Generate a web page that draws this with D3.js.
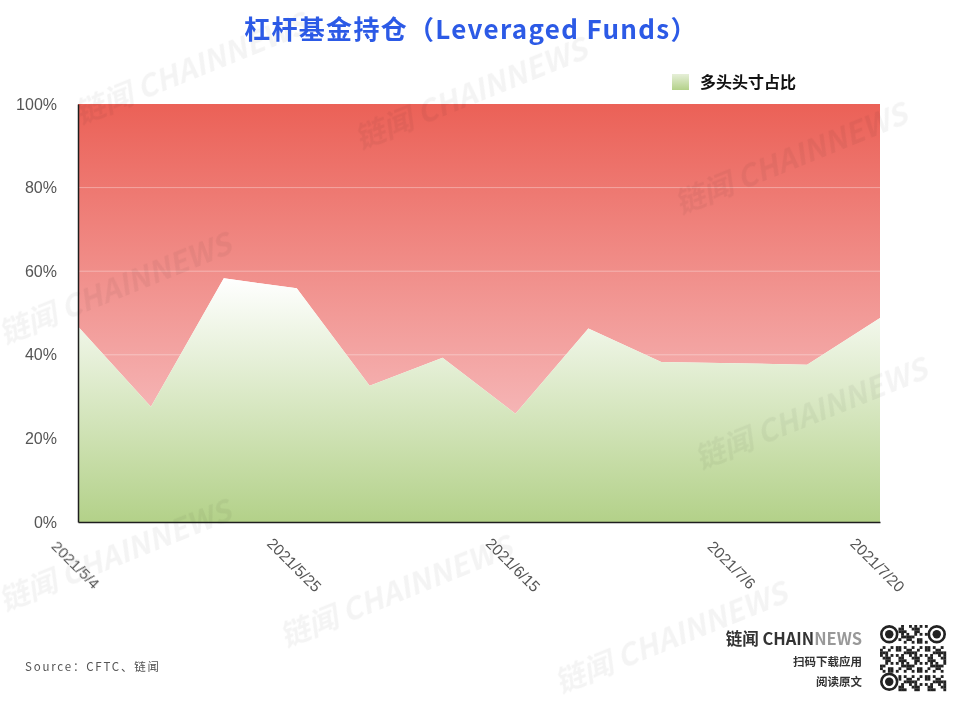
<!DOCTYPE html>
<html>
<head>
<meta charset="utf-8">
<script src="https://cdn.jsdelivr.net/npm/d3@7"></script>
<style>
  html, body { margin: 0; padding: 0; background: #fff; }
  svg { display: block; }
</style>
</head>
<body>
<svg id="chart" width="960" height="704"></svg>
<script>
// ---- data ----
const dates = ["2021/5/4","2021/5/11","2021/5/18","2021/5/25","2021/6/1","2021/6/8",
               "2021/6/15","2021/6/22","2021/6/29","2021/7/6","2021/7/13","2021/7/20"];
const longShare  = [46.8, 27.6, 58.3, 55.9, 32.6, 39.3, 25.9, 46.3, 38.3, 38.0, 37.6, 48.8];
const shortShare = [53.2, 72.4, 41.7, 44.1, 67.4, 60.7, 74.1, 53.7, 61.7, 62.0, 62.4, 51.2];
const xTickLabels = ["2021/5/4","2021/5/25","2021/6/15","2021/7/6","2021/7/20"];
const yTicks = [0, 20, 40, 60, 80, 100];
const titleText = "杠杆基金持仓（Leveraged Funds）";
const legendLabel = "多头头寸占比";
const sourceText = "Source：CFTC、链闻";

(function () {
// ---- layout ----
const svg = d3.select("#chart");
const pLeft = 78, pRight = 880, pTop = 104, pBottom = 522;
const x = d3.scalePoint().domain(dates).range([pLeft, pRight]);
const y = d3.scaleLinear().domain([0, 100]).range([pBottom, pTop]);

const defs = svg.append("defs");
const gGreen = defs.append("linearGradient").attr("id", "gGreen")
  .attr("x1", 0).attr("y1", 0).attr("x2", 0).attr("y2", 1);
gGreen.append("stop").attr("offset", "0%").attr("stop-color", "#ffffff");
gGreen.append("stop").attr("offset", "100%").attr("stop-color", "#b3d189");

const gRed = defs.append("linearGradient").attr("id", "gRed")
  .attr("gradientUnits", "userSpaceOnUse")
  .attr("x1", 0).attr("y1", pTop).attr("x2", 0).attr("y2", pBottom);
gRed.append("stop").attr("offset", "0%").attr("stop-color", "#eb6157");
gRed.append("stop").attr("offset", "100%").attr("stop-color", "#f9d2d6");

const gLeg = defs.append("linearGradient").attr("id", "gLeg")
  .attr("x1", 0).attr("y1", 0).attr("x2", 0).attr("y2", 1);
gLeg.append("stop").attr("offset", "0%").attr("stop-color", "#e6efd8");
gLeg.append("stop").attr("offset", "100%").attr("stop-color", "#b3d189");

// ---- stacked areas ----
const series = dates.map((d, i) => ({ d, long: longShare[i], short: shortShare[i] }));

svg.append("path").datum(series)
  .attr("fill", "url(#gRed)")
  .attr("d", d3.area().x(s => x(s.d)).y0(s => y(s.long)).y1(s => y(s.long + s.short)));

// gridlines
svg.append("g").selectAll("line").data(yTicks.filter(t => t > 0 && t < 100)).join("line")
  .attr("x1", pLeft).attr("x2", pRight)
  .attr("y1", t => y(t)).attr("y2", t => y(t))
  .attr("stroke", "#ffffff").attr("stroke-opacity", 0.35).attr("stroke-width", 1);

svg.append("path").datum(series)
  .attr("fill", "url(#gGreen)")
  .attr("d", d3.area().x(s => x(s.d)).y0(y(0)).y1(s => y(s.long)));

// ---- watermarks ----
const wm = svg.append("g").attr("fill", "#000").attr("opacity", 0.045)
  .style("font-family", "'Noto Sans CJK SC', sans-serif")
  .style("font-weight", "700").style("font-style", "italic").style("font-size", "30px");
const wmPos = [[80,125],[360,150],[680,215],[4,345],[4,612],[285,648],[560,694],[700,470]];
wmPos.forEach(p => {
  wm.append("text").attr("transform", `translate(${p[0]},${p[1]}) rotate(-22)`).text("链闻 CHAINNEWS");
});

// ---- axes ----
const yAxis = svg.append("g").attr("transform", `translate(${pLeft},0)`)
  .call(d3.axisLeft(y).tickValues(yTicks).tickFormat(d => d + "%").tickSize(0).tickPadding(21));
yAxis.select(".domain").attr("stroke", "#1e1e1e").attr("stroke-width", 1.5);
yAxis.selectAll("text").attr("fill", "#555").style("font-size", "16px")
  .style("font-family", "'Liberation Sans', Arial, sans-serif");

const xAxis = svg.append("g").attr("transform", `translate(0,${pBottom})`)
  .call(d3.axisBottom(x).tickValues(xTickLabels).tickSize(0).tickPadding(0));
xAxis.select(".domain").attr("stroke", "#1e1e1e").attr("stroke-width", 1.5);
xAxis.selectAll("text").attr("fill", "#555").style("font-size", "15.5px")
  .style("font-family", "'Liberation Sans', Arial, sans-serif")
  .attr("text-anchor", "middle").attr("y", 0).attr("dy", "0.35em")
  .attr("transform", "translate(-3,43) rotate(45)");

// ---- title ----
svg.append("text").attr("x", 471).attr("y", 39).attr("text-anchor", "middle")
  .attr("fill", "#2c5ae6")
  .style("font-family", "'Noto Sans CJK SC', sans-serif").style("font-weight", "700")
  .style("font-size", "26px").style("letter-spacing", "1.3px").text(titleText);

// ---- legend ----
svg.append("rect").attr("x", 672).attr("y", 74).attr("width", 17).attr("height", 16)
  .attr("fill", "url(#gLeg)");
svg.append("text").attr("x", 700).attr("y", 88)
  .attr("fill", "#111")
  .style("font-family", "'Noto Sans CJK SC', sans-serif").style("font-weight", "700")
  .style("font-size", "16px").text(legendLabel);

// ---- footer ----
svg.append("text").attr("x", 25).attr("y", 671).attr("fill", "#555")
  .style("font-family", "'Noto Sans CJK SC', sans-serif").style("font-size", "11.5px")
  .style("letter-spacing", "1.8px").text(sourceText);

const brand = svg.append("text").attr("x", 862).attr("y", 645).attr("text-anchor", "end")
  .style("font-family", "'Noto Sans CJK SC', sans-serif").style("font-weight", "700")
  .style("font-size", "16.5px");
brand.append("tspan").attr("fill", "#333").text("链闻 CHAIN");
brand.append("tspan").attr("fill", "#999").text("NEWS");

svg.append("text").attr("x", 862).attr("y", 666).attr("text-anchor", "end").attr("fill", "#333")
  .style("font-family", "'Noto Sans CJK SC', sans-serif").style("font-weight", "700")
  .style("font-size", "11.5px").text("扫码下载应用");
svg.append("text").attr("x", 862).attr("y", 686).attr("text-anchor", "end").attr("fill", "#333")
  .style("font-family", "'Noto Sans CJK SC', sans-serif").style("font-weight", "700")
  .style("font-size", "11.5px").text("阅读原文");

// QR-like decoration
const qr = svg.append("g").attr("transform", "translate(880,625)");
const n = 25, cs = 66 / n;
const cells = [];
for (let r = 0; r < n; r++) for (let c = 0; c < n; c++) {
  const inFinder = (r < 7 && c < 7) || (r < 7 && c >= n - 7) || (r >= n - 7 && c < 7);
  if (inFinder) continue;
  if (((r * 31 + c * 17 + r * c * 7) % 11) < 5) cells.push([r, c]);
}
qr.selectAll("rect.cell").data(cells).join("rect").attr("class", "cell")
  .attr("x", d => d[1] * cs).attr("y", d => d[0] * cs)
  .attr("width", cs + 0.2).attr("height", cs + 0.2).attr("fill", "#222");
[[0,0],[0,n-7],[n-7,0]].forEach(([r, c]) => {
  qr.append("rect").attr("x", c*cs + cs*0.5).attr("y", r*cs + cs*0.5)
    .attr("width", cs*6).attr("height", cs*6).attr("rx", cs*3)
    .attr("fill", "none").attr("stroke", "#222").attr("stroke-width", cs);
  qr.append("circle").attr("cx", c*cs + cs*3.5).attr("cy", r*cs + cs*3.5).attr("r", cs*1.6)
    .attr("fill", "#222");
});
})();
</script>
</body>
</html>
